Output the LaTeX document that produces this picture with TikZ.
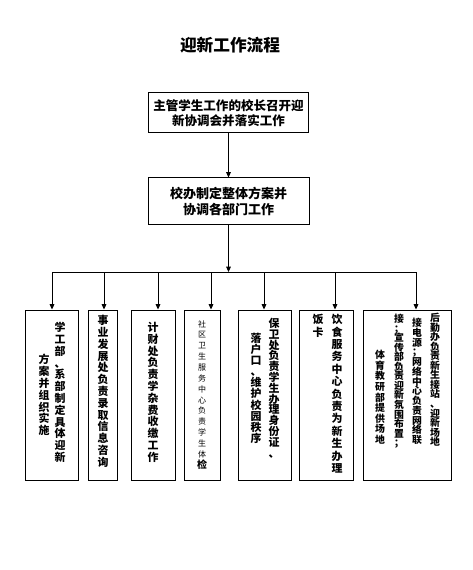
\documentclass[tikz,border=0pt]{standalone}
\usepackage{fontspec}
\newfontfamily\cjk{Noto Sans CJK SC}
\usetikzlibrary{arrows.meta}
\makeatletter
% one vertical column of characters, #1 = pitch
\newcommand\vcol[2]{\vbox{\baselineskip=#1\lineskiplimit=-\maxdimen\lineskip=0pt
  \@tfor\vc@ch:=#2\do{\hbox to 1em{\hss\vc@ch\hss}}}}
\makeatother

\begin{document}
\begin{tikzpicture}[x=0.75pt,y=-0.75pt,
    box/.style={draw, line width=0.75pt, inner sep=0pt},
    wh/.style 2 args={minimum width=#1*0.75pt, minimum height=#2*0.75pt},
    arr/.style={line width=0.75pt, -{Triangle[width=3.5pt,length=4pt]}},
    col/.style={inner sep=0pt, anchor=north, font=\cjk\bfseries\fontsize{8.2}{9}\selectfont},
    smallcol/.style={col, font=\cjk\bfseries\fontsize{7.4}{9}\selectfont}]
    \useasboundingbox[fill=white] (0,0) rectangle (473,570);

    % title
    \node[font=\cjk\bfseries\fontsize{12.5}{15}\selectfont] (title) at (230,45) {迎新工作流程};

    % top boxes
    \node[box, wh={160}{40}, align=center, font=\cjk\bfseries\fontsize{9.4}{11.25}\selectfont]
        (lead) at (228.5,113) {主管学生工作的校长召开迎\\新协调会并落实工作};
    \node[box, wh={161}{46}, align=center, font=\cjk\bfseries\fontsize{9.75}{12}\selectfont]
        (office) at (228.5,201) {校办制定整体方案并\\协调各部门工作};
    \draw[arr] (lead.south) -- (office.north);

    % bus
    \coordinate (hub) at (228.5,272);
    \coordinate (d1) at (52,272);
    \coordinate (d2) at (104,272);
    \coordinate (d3) at (158,272);
    \coordinate (d4) at (211,272);
    \coordinate (d5) at (264,272);
    \coordinate (d6) at (335,272);
    \coordinate (d7) at (416,272);
    \draw[arr] (office.south) -- (hub);
    \draw[line width=0.75pt] (d1) -- (d7);

    % department boxes
    \node[box, wh={53}{170}] (b1) at (52,395) {};
    \node[box, wh={29}{170}] (b2) at (102.5,395) {};
    \node[box, wh={44}{170}] (b3) at (153,395) {};
    \node[box, wh={36}{170}] (b4) at (202,395) {};
    \node[box, wh={53}{170}] (b5) at (264.5,395) {};
    \node[box, wh={54}{170}] (b6) at (326,395) {};
    \node[box, wh={88}{170}] (b7) at (407,395) {};
    \foreach \i in {1,...,7}
        \draw[arr] (d\i) -- (d\i |- b\i.north);

    % texts, read top to bottom, right to left
    \node[col] (b1a) at (60,322) {\vcol{8.85pt}{学工部、系部制定具体迎新}};
    \node[col] (b1b) at (44,354) {\vcol{8.85pt}{方案并组织实施}};
    \node[col] (b2a) at (103,315) {\vcol{8.85pt}{事业发展处负责录取信息咨询}};
    \node[col] (b3a) at (153,322) {\vcol{8.85pt}{计财处负责学杂费收缴工作}};
    \node[col, font=\cjk\fontsize{6}{7}\selectfont] (b4a) at (202,320)
        {\vcol{8.15pt}{社区卫生服务中心负责学生体{\bfseries\fontsize{7.5}{9}\selectfont 检}}};
    \node[col] (b5a) at (274,318) {\vcol{8.1pt}{保卫处负责学生办理身份证、}};
    \node[col] (b5b) at (256,333) {\vcol{8.3pt}{落户口、维护校园秩序}};
    \node[col] (b6a) at (337,314) {\vcol{9.3pt}{饮食服务中心负责为新生办理}};
    \node[col] (b6b) at (318,314) {\vcol{9.3pt}{饭卡}};
    \node[smallcol] (b7a) at (435,313) {\vcol{7.15pt}{后勤办负责新生接站、迎新场地}};
    \node[smallcol] (b7b) at (417,318) {\vcol{7.3pt}{接电源；网络中心负责网络联}};
    \node[smallcol] (b7c) at (399,314) {\vcol{7.15pt}{接；宣传部负责迎新氛围布置；}};
    \node[smallcol] (b7d) at (380,350) {\vcol{7.95pt}{体育教研部提供场地}};
\end{tikzpicture}
\end{document}
